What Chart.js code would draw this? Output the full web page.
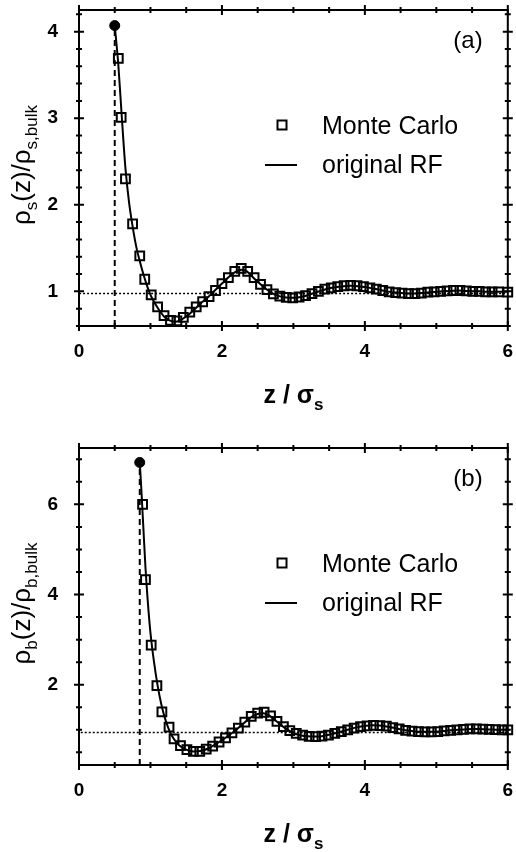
<!DOCTYPE html>
<html>
<head>
<meta charset="utf-8">
<script src="https://cdn.jsdelivr.net/npm/chart.js@4.4.1/dist/chart.umd.min.js"></script>
<style>
  html, body { margin: 0; padding: 0; background: #fff; }
  .panel { position: absolute; left: 0; width: 516px; }
  .panel-a { top: 0; height: 420px; }
  .panel-b { top: 420px; height: 432px; }
</style>
</head>
<body>
<div class="panel panel-a"><canvas class="js-panel-a"></canvas></div>
<div class="panel panel-b"><canvas class="js-panel-b"></canvas></div>
<script>
const FONT = "'Liberation Sans', Arial, sans-serif";

// shared x axis
const xTicks = [0, 2, 4, 6];

// panel (a): solvent profile
const yTicksA = [1, 2, 3, 4];
const mcZa = [0.55, 0.59, 0.65, 0.75, 0.85, 0.92, 1.01, 1.10, 1.19, 1.28, 1.37, 1.46, 1.55, 1.64, 1.73, 1.82,
  1.91, 2.00, 2.09, 2.18, 2.27, 2.36, 2.45, 2.54, 2.63, 2.72, 2.81, 2.90, 2.99, 3.08, 3.17, 3.26, 3.35,
  3.44, 3.53, 3.62, 3.71, 3.80, 3.89, 3.98, 4.07, 4.16, 4.25, 4.34, 4.43, 4.52, 4.61, 4.70, 4.79, 4.88,
  4.97, 5.06, 5.15, 5.24, 5.33, 5.42, 5.51, 5.60, 5.69, 5.78, 5.87, 6.00];
const mcRhoA = [3.69, 3.01, 2.30, 1.78, 1.41, 1.14, 0.96, 0.82, 0.72, 0.665, 0.66, 0.70, 0.76, 0.82, 0.88, 0.94,
  1.01, 1.09, 1.16, 1.23, 1.265, 1.23, 1.16, 1.08, 1.02, 0.97, 0.945, 0.93, 0.925, 0.935, 0.95, 0.975, 1.0,
  1.025, 1.04, 1.055, 1.065, 1.07, 1.065, 1.055, 1.04, 1.025, 1.01, 0.995, 0.985, 0.98, 0.975, 0.975, 0.98, 0.99,
  0.995, 1.0, 1.005, 1.01, 1.01, 1.005, 1.0, 1.0, 0.995, 0.995, 0.995, 0.99];
const rfZa = [0.50, 0.55, 0.60, 0.65, 0.70, 0.75, 0.80, 0.85, 0.90, 0.95, 1.00, 1.05, 1.10, 1.15, 1.20, 1.25,
  1.30, 1.35, 1.40, 1.50, 1.60, 1.70, 1.80, 1.90, 2.00, 2.10, 2.20, 2.27, 2.35, 2.40, 2.50, 2.60, 2.70, 2.80,
  2.90, 3.00, 3.10, 3.20, 3.30, 3.40, 3.50, 3.60, 3.70, 3.80, 3.90, 4.00, 4.10, 4.20, 4.30, 4.40, 4.50,
  4.60, 4.70, 4.80, 4.90, 5.00, 5.10, 5.20, 5.30, 5.40, 5.50, 5.60, 5.70, 5.80, 5.90, 6.00];
const rfRhoA = [4.07, 3.62, 3.00, 2.42, 2.03, 1.75, 1.52, 1.35, 1.20, 1.07, 0.96, 0.88, 0.81, 0.75, 0.70, 0.67,
  0.655, 0.65, 0.66, 0.71, 0.78, 0.86, 0.93, 1.01, 1.09, 1.17, 1.23, 1.25, 1.23, 1.19, 1.11, 1.04, 0.98, 0.945,
  0.93, 0.925, 0.935, 0.955, 0.985, 1.01, 1.035, 1.05, 1.06, 1.065, 1.06, 1.05, 1.035, 1.02, 1.0, 0.99, 0.98,
  0.975, 0.975, 0.98, 0.99, 0.995, 1.0, 1.005, 1.01, 1.005, 1.0, 1.0, 0.995, 0.995, 0.995, 0.995];
const contactA = [0.5, 4.07];
const bulkZa = [0, 1.31, 6];
const bulkRhoA = [0.93, 0.975, 0.975];

// panel (b): big particle profile
const yTicksB = [2, 4, 6];
const mcZb = [0.89, 0.93, 1.01, 1.09, 1.16, 1.26, 1.33, 1.42, 1.51, 1.60, 1.69, 1.78, 1.87, 1.96, 2.05, 2.14,
  2.23, 2.32, 2.41, 2.50, 2.59, 2.68, 2.77, 2.86, 2.95, 3.04, 3.13, 3.22, 3.31, 3.40, 3.49, 3.58, 3.67,
  3.76, 3.85, 3.94, 4.03, 4.12, 4.21, 4.30, 4.39, 4.48, 4.57, 4.66, 4.75, 4.84, 4.93, 5.02, 5.11, 5.20,
  5.29, 5.38, 5.47, 5.56, 5.65, 5.74, 5.83, 5.92, 6.00];
const mcRhoB = [6.00, 4.33, 2.88, 1.98, 1.40, 1.06, 0.80, 0.65, 0.56, 0.52, 0.52, 0.57, 0.64, 0.73, 0.82, 0.93,
  1.04, 1.17, 1.30, 1.37, 1.39, 1.31, 1.19, 1.07, 0.98, 0.92, 0.88, 0.855, 0.85, 0.86, 0.885, 0.92, 0.96,
  1.0, 1.04, 1.07, 1.09, 1.10, 1.095, 1.08, 1.05, 1.02, 0.99, 0.97, 0.96, 0.955, 0.955, 0.96, 0.975, 0.99,
  1.0, 1.01, 1.02, 1.02, 1.015, 1.01, 1.005, 1.0, 1.0];
const rfZb = [0.85, 0.87, 0.90, 0.93, 0.96, 1.00, 1.05, 1.10, 1.15, 1.20, 1.25, 1.30, 1.35, 1.40, 1.50, 1.60,
  1.70, 1.80, 1.90, 2.00, 2.10, 2.20, 2.30, 2.40, 2.50, 2.58, 2.65, 2.70, 2.80, 2.90, 3.00, 3.10, 3.20,
  3.30, 3.40, 3.50, 3.60, 3.70, 3.80, 3.90, 4.00, 4.10, 4.20, 4.30, 4.40, 4.50, 4.60, 4.70, 4.80, 4.90,
  5.00, 5.10, 5.20, 5.30, 5.40, 5.50, 5.60, 5.70, 5.80, 5.90, 6.00];
const rfRhoB = [6.93, 6.40, 5.50, 4.60, 3.90, 3.15, 2.50, 1.98, 1.58, 1.27, 1.04, 0.87, 0.75, 0.66, 0.56, 0.52,
  0.53, 0.58, 0.67, 0.77, 0.88, 1.00, 1.14, 1.27, 1.35, 1.37, 1.33, 1.27, 1.14, 1.02, 0.93, 0.88, 0.855,
  0.85, 0.86, 0.89, 0.93, 0.975, 1.02, 1.06, 1.085, 1.10, 1.095, 1.075, 1.045, 1.01, 0.985, 0.965, 0.955, 0.955,
  0.96, 0.975, 0.99, 1.0, 1.01, 1.02, 1.02, 1.01, 1.005, 1.0, 1.0];
const contactB = [0.85, 6.93];
const bulkZb = [0, 1.63, 6];
const bulkRhoB = [0.89, 0.94, 0.94];

const pts = (xs, ys) => xs.map((x, i) => ({ x: x, y: ys[i] }));

// text with subscripts, centred on (0, 0) baseline
const drawRich = function (ctx, parts, size, weight) {
  const subSize = Math.round(size * 0.66);
  const fontOf = (p) => `${weight} ${p.sub ? subSize : size}px ${FONT}`;
  let total = 0;
  parts.forEach((p) => {
    ctx.font = fontOf(p);
    total += ctx.measureText(p.t).width;
  });
  let x = -total / 2;
  parts.forEach((p) => {
    ctx.font = fontOf(p);
    ctx.fillText(p.t, x, p.sub ? size * 0.28 : 0);
    x += ctx.measureText(p.t).width;
  });
};

const makePanel = function (canvas, p) {
  const decor = {
    id: "decor",
    afterDraw(chart) {
      const { ctx, chartArea: a, scales } = chart;
      ctx.save();
      ctx.strokeStyle = "#000";
      ctx.fillStyle = "#000";
      ctx.lineWidth = 2;
      ctx.strokeRect(a.left, a.top, a.right - a.left, a.bottom - a.top);

      // tick marks on all four sides, crossing the frame
      const xs = scales.x;
      for (let i = 0; i * 0.5 <= 6 + 1e-9; i++) {
        const v = i * 0.5;
        const px = xs.getPixelForValue(v);
        const len = xTicks.includes(v) ? 5 : 3;
        ctx.beginPath();
        ctx.moveTo(px, a.bottom - len); ctx.lineTo(px, a.bottom + len);
        ctx.moveTo(px, a.top - len); ctx.lineTo(px, a.top + len);
        ctx.stroke();
      }
      const ys = scales.y;
      for (let i = Math.ceil(p.yMin / p.minor - 1e-9); i * p.minor <= p.yMax + 1e-9; i++) {
        const v = Math.round(i * p.minor * 100) / 100;
        const py = ys.getPixelForValue(v);
        const len = p.yTicks.includes(v) ? 5 : 3;
        ctx.beginPath();
        ctx.moveTo(a.left - len, py); ctx.lineTo(a.left + len, py);
        ctx.moveTo(a.right - len, py); ctx.lineTo(a.right + len, py);
        ctx.stroke();
      }

      // axis titles
      ctx.textBaseline = "alphabetic";
      ctx.save();
      ctx.translate((a.left + a.right) / 2, a.bottom + 77);
      drawRich(ctx, [{ t: "z / σ" }, { t: "s", sub: true }], 25, "bold");
      ctx.restore();
      ctx.save();
      ctx.translate(30, (a.top + a.bottom) / 2 - 3);
      ctx.rotate(-Math.PI / 2);
      drawRich(ctx, [{ t: "ρ" }, { t: p.sp, sub: true }, { t: "(z)/ρ" }, { t: p.sp + ",bulk", sub: true }], 26, "normal");
      ctx.restore();

      // panel letter
      ctx.font = `24px ${FONT}`;
      ctx.textAlign = "center";
      ctx.fillText(p.letter, 468, a.top + 38);

      // legend
      ctx.textAlign = "left";
      ctx.font = `25px ${FONT}`;
      ctx.lineWidth = 2;
      ctx.strokeRect(277.5, a.top + 110.5, 9, 9);
      ctx.fillText("Monte Carlo", 322, a.top + 124);
      ctx.beginPath();
      ctx.moveTo(265, a.top + 155);
      ctx.lineTo(297, a.top + 155);
      ctx.stroke();
      ctx.fillText("original RF", 322, a.top + 163);
      ctx.restore();
    },
  };

  new Chart(canvas, {
    type: "scatter",
    data: {
      datasets: [
        {
          label: "contact",
          data: [{ x: p.contact[0], y: p.yMin }, { x: p.contact[0], y: p.contact[1] }],
          showLine: true,
          borderColor: "#000",
          borderWidth: 2,
          borderDash: [6, 4],
          pointRadius: 0,
        },
        {
          label: "bulk",
          data: pts(p.bulkZ, p.bulkRho),
          showLine: true,
          stepped: "after",
          borderColor: "#000",
          borderWidth: 1.5,
          borderDash: [2, 2],
          pointRadius: 0,
        },
        {
          label: "original RF",
          data: pts(p.rfZ, p.rfRho),
          showLine: true,
          cubicInterpolationMode: "monotone",
          borderColor: "#000",
          borderWidth: 2,
          pointRadius: 0,
        },
        {
          label: "Monte Carlo",
          data: pts(p.mcZ, p.mcRho),
          pointStyle: "rect",
          pointRadius: 6.2,
          pointBorderWidth: 2,
          pointBorderColor: "#000",
          pointBackgroundColor: "rgba(0,0,0,0)",
          clip: false,
        },
        {
          label: "contact value",
          data: [{ x: p.contact[0], y: p.contact[1] }],
          pointRadius: 5,
          pointBackgroundColor: "#000",
          pointBorderColor: "#000",
          clip: false,
        },
      ],
    },
    options: {
      responsive: true,
      maintainAspectRatio: false,
      animation: false,
      layout: { padding: { top: p.padTop, right: 5, left: 0, bottom: 0 } },
      scales: {
        x: {
          type: "linear",
          min: 0,
          max: 6,
          grid: { display: false, drawTicks: false },
          border: { display: false },
          afterBuildTicks: (scale) => { scale.ticks = xTicks.map((v) => ({ value: v })); },
          afterFit: (scale) => {
            scale.height = p.xHeight;
            scale.paddingLeft = 0;
            scale.paddingRight = 0;
          },
          ticks: { color: "#000", padding: 14, font: { family: FONT, size: 19, weight: "bold" } },
        },
        y: {
          type: "linear",
          min: p.yMin,
          max: p.yMax,
          grid: { display: false, drawTicks: false },
          border: { display: false },
          afterBuildTicks: (scale) => { scale.ticks = p.yTicks.map((v) => ({ value: v })); },
          afterFit: (scale) => {
            scale.width = 79;
            scale.paddingTop = 0;
            scale.paddingBottom = 0;
          },
          ticks: { color: "#000", padding: 21, font: { family: FONT, size: 19, weight: "bold" } },
        },
      },
      plugins: {
        legend: { display: false },
        tooltip: { enabled: false },
      },
    },
    plugins: [decor],
  });
};

const init = function () {
  makePanel(document.querySelector(".js-panel-a"), {
    letter: "(a)", sp: "s", yMin: 0.6, yMax: 4.25, minor: 0.2, yTicks: yTicksA,
    padTop: 10, xHeight: 94,
    mcZ: mcZa, mcRho: mcRhoA, rfZ: rfZa, rfRho: rfRhoA,
    contact: contactA, bulkZ: bulkZa, bulkRho: bulkRhoA,
  });
  makePanel(document.querySelector(".js-panel-b"), {
    letter: "(b)", sp: "b", yMin: 0.22, yMax: 7.25, minor: 0.5, yTicks: yTicksB,
    padTop: 28, xHeight: 87,
    mcZ: mcZb, mcRho: mcRhoB, rfZ: rfZb, rfRho: rfRhoB,
    contact: contactB, bulkZ: bulkZb, bulkRho: bulkRhoB,
  });
};

document.addEventListener("DOMContentLoaded", init);
</script>
</body>
</html>
